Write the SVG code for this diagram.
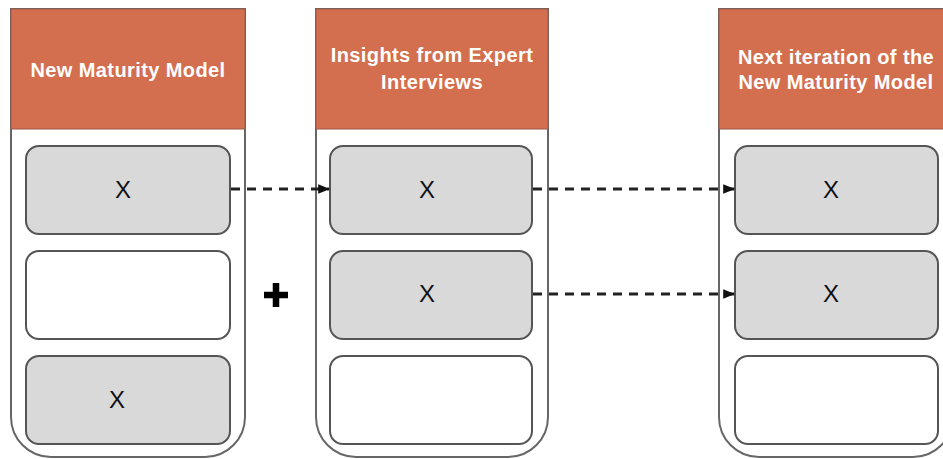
<svg xmlns="http://www.w3.org/2000/svg" width="943" height="459" viewBox="0 0 943 459">
  <defs>
    <style>
      .col { fill: #ffffff; stroke: #666666; stroke-width: 2; }
      .head { fill: #D36E4E; stroke: #9a5a46; stroke-width: 1; }
      .htxt { fill: #ffffff; font-family: "Liberation Sans", Arial, sans-serif; font-weight: bold; font-size: 20px; letter-spacing: 0.4px; text-anchor: middle; }
      .box { stroke: #555555; stroke-width: 2; }
      .filled { fill: #D9D9D9; }
      .empty { fill: #ffffff; }
      .x { fill: #111111; font-family: "Liberation Sans", Arial, sans-serif; font-size: 24px; text-anchor: middle; }
      .link { fill: none; stroke: #222222; stroke-width: 3; stroke-dasharray: 9 7; marker-end: url(#arrow); }
    </style>
    <marker id="arrow" viewBox="0 0 10 10" refX="9" refY="5" markerWidth="4" markerHeight="4" orient="auto" markerUnits="strokeWidth">
      <path d="M0,1 L10,5 L0,9 Z" fill="#111111"/>
    </marker>
  </defs>

  <!-- Column 1: New Maturity Model -->
  <g id="col-new-model">
    <path class="col" d="M11,9 H245 V417 A40,40 0 0 1 205,457 H51 A40,40 0 0 1 11,417 Z"/>
    <rect class="head" x="11" y="9" width="234" height="120"/>
    <text class="htxt" x="128" y="77">New Maturity Model</text>
  </g>
  <g id="c1-item1">
    <rect class="box filled" x="26" y="146" width="204" height="88" rx="13"/>
    <text class="x" x="123" y="198">X</text>
  </g>
  <g id="c1-item2">
    <rect class="box empty" x="26" y="251" width="204" height="88" rx="13"/>
  </g>
  <g id="c1-item3">
    <rect class="box filled" x="26" y="356" width="204" height="88" rx="13"/>
    <text class="x" x="117" y="408">X</text>
  </g>

  <!-- Column 2: Insights from Expert Interviews -->
  <g id="col-insights">
    <path class="col" d="M316,9 H548 V417 A40,40 0 0 1 508,457 H356 A40,40 0 0 1 316,417 Z"/>
    <rect class="head" x="316" y="9" width="232" height="120"/>
    <text class="htxt" x="432" y="62">Insights from Expert</text>
    <text class="htxt" x="432" y="89">Interviews</text>
  </g>
  <g id="c2-item1">
    <rect class="box filled" x="330" y="146" width="202" height="88" rx="13"/>
    <text class="x" x="427" y="198">X</text>
  </g>
  <g id="c2-item2">
    <rect class="box filled" x="330" y="251" width="202" height="88" rx="13"/>
    <text class="x" x="427" y="302">X</text>
  </g>
  <g id="c2-item3">
    <rect class="box empty" x="330" y="356" width="202" height="88" rx="13"/>
  </g>

  <!-- Column 3: Next iteration of the New Maturity Model -->
  <g id="col-next-iteration">
    <path class="col" d="M719,9 H953 V417 A40,40 0 0 1 913,457 H759 A40,40 0 0 1 719,417 Z"/>
    <rect class="head" x="719" y="9" width="234" height="120"/>
    <text class="htxt" x="836" y="64">Next iteration of the</text>
    <text class="htxt" x="836" y="89">New Maturity Model</text>
  </g>
  <g id="c3-item1">
    <rect class="box filled" x="735" y="146" width="203" height="88" rx="13"/>
    <text class="x" x="831" y="198">X</text>
  </g>
  <g id="c3-item2">
    <rect class="box filled" x="735" y="251" width="203" height="88" rx="13"/>
    <text class="x" x="831" y="302">X</text>
  </g>
  <g id="c3-item3">
    <rect class="box empty" x="735" y="356" width="203" height="88" rx="13"/>
  </g>

  <!-- Plus sign between columns -->
  <g id="plus">
    <path d="M276,283 V307 M264,295 H288" stroke="#000000" stroke-width="6.5" fill="none"/>
  </g>

  <!-- Connectors -->
  <g id="connectors">
    <path class="link" d="M231,189 H329"/>
    <path class="link" d="M533,189 H734"/>
    <path class="link" d="M533,294 H734"/>
  </g>
</svg>
